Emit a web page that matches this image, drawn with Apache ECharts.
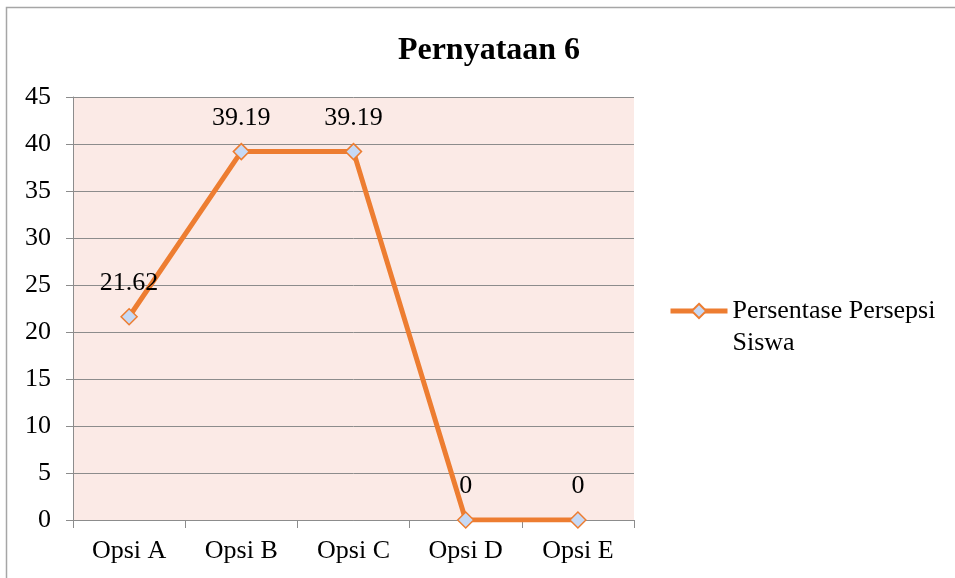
<!DOCTYPE html>
<html>
<head>
<meta charset="utf-8">
<script src="https://cdn.jsdelivr.net/npm/echarts@6/dist/echarts.min.js"></script>
<style>
html,body{margin:0;padding:0;background:#fff;}
#chart{width:955px;height:578px;}
</style>
</head>
<body>
<div id="chart"></div>
<script>
const titleText = 'Pernyataan 6';
const seriesName = 'Persentase Persepsi Siswa';
const categories = ['Opsi A', 'Opsi B', 'Opsi C', 'Opsi D', 'Opsi E'];
const values = [21.62, 39.19, 39.19, 0, 0];
const yMin = 0, yMax = 45, yStep = 5;

const FONT = '"Liberation Serif", "Times New Roman", serif';
const chart = echarts.init(document.getElementById('chart'));
chart.setOption({
  backgroundColor: '#ffffff',
  animation: false,
  textStyle: { fontFamily: FONT },
  title: {
    text: titleText,
    left: 484, top: 30, textAlign: 'center',
    textStyle: { fontFamily: FONT, fontWeight: 'bold', fontSize: 32, color: '#000' }
  },
  graphic: [{
    type: 'rect', silent: true, z: -1,
    shape: { x: 6.5, y: 7.5, width: 2000, height: 2000 },
    style: { fill: 'none', stroke: '#A6A6A6', lineWidth: 1.5 }
  }],
  grid: { left: 73, right: 321, top: 97, bottom: 58, show: true, backgroundColor: '#FBEAE6', borderWidth: 0 },
  legend: {
    data: [seriesName],
    left: 663, top: 258,
    itemWidth: 57, itemHeight: 18, itemGap: 4,
    lineStyle: { width: 5 },
    formatter: () => '\nPersentase Persepsi\nSiswa',
    textStyle: { fontFamily: FONT, fontSize: 26, color: '#000', lineHeight: 32 }
  },
  xAxis: {
    type: 'category', data: categories, boundaryGap: true,
    axisLine: { lineStyle: { color: '#8C8C8C', width: 1 } },
    axisTick: { show: true, length: 8, lineStyle: { color: '#8C8C8C' } },
    axisLabel: { fontFamily: FONT, fontSize: 26, color: '#000', margin: 18 }
  },
  yAxis: {
    type: 'value', min: yMin, max: yMax, interval: yStep,
    axisLine: { show: true, lineStyle: { color: '#8C8C8C', width: 1 } },
    axisTick: { show: true, length: 7, lineStyle: { color: '#8C8C8C' } },
    splitLine: { show: true, lineStyle: { color: '#8C8C8C', width: 1 } },
    axisLabel: { fontFamily: FONT, fontSize: 26, color: '#000', margin: 22 }
  },
  series: [{
    name: seriesName, type: 'line', data: values,
    symbol: 'diamond', symbolSize: 16,
    lineStyle: { color: '#ED7D31', width: 5 },
    itemStyle: { color: '#C6D9F5', borderColor: '#ED7D31', borderWidth: 1.5 },
    label: { show: true, position: 'top', distance: 12, fontFamily: FONT, fontSize: 26, color: '#000' }
  }]
});
</script>
</body>
</html>
